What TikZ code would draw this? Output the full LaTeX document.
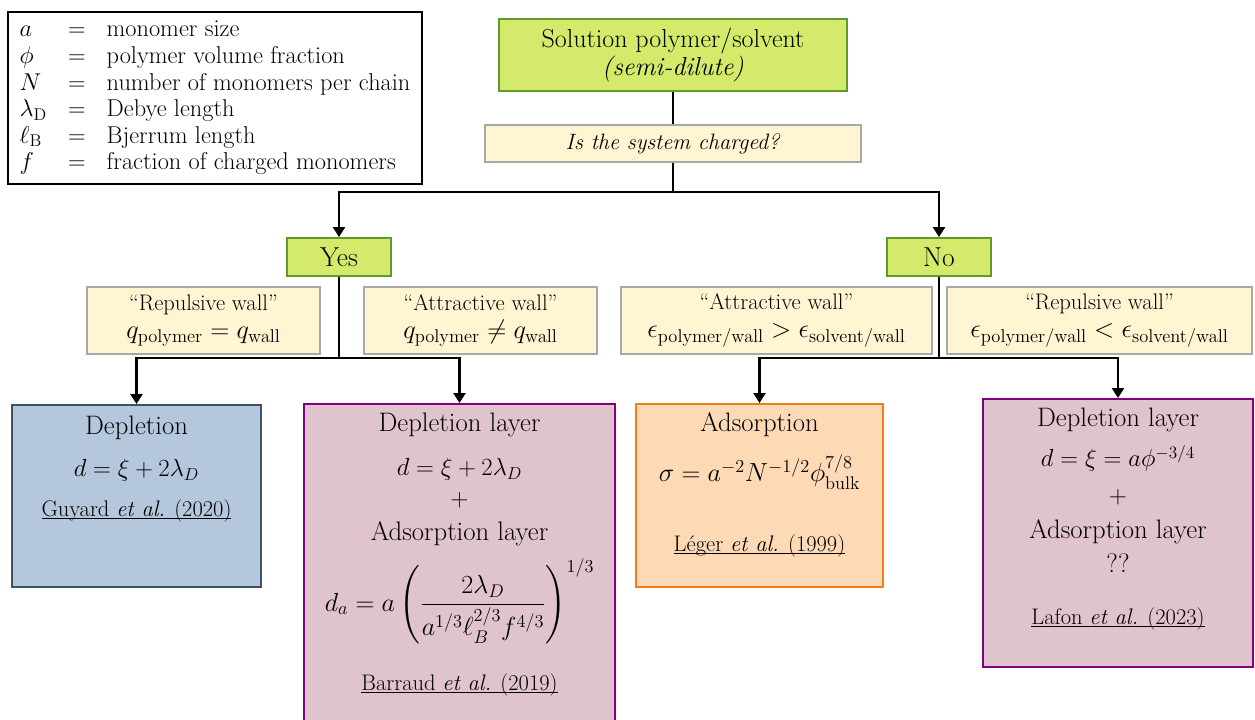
\RequirePackage{fix-cm}
\documentclass[tikz,border=0pt]{standalone}
\usepackage{amsmath,amssymb}
\usepackage{tikz}
\usetikzlibrary{arrows.meta}
\definecolor{leafgreen}{HTML}{D4EA6B}
\definecolor{greenline}{HTML}{5E9B2C}
\definecolor{cream}{HTML}{FFF5D2}
\definecolor{grayline}{HTML}{A8A8A8}
\definecolor{steelfill}{HTML}{B4C7DC}
\definecolor{steelline}{HTML}{3D5468}
\definecolor{mauvefill}{HTML}{DFC3CD}
\definecolor{mauveline}{HTML}{800080}
\definecolor{peachfill}{HTML}{FDDAB5}
\definecolor{peachline}{HTML}{F07F19}
% underline close to the baseline
\newcommand{\refuline}[1]{\setbox0\hbox{#1}\rlap{\rule[-2.2pt]{\wd0}{0.7pt}}\box0}
% larger math in the wall boxes
\newcommand{\walleq}[1]{{\fontsize{18.8}{20}\selectfont$#1$}}

\begin{document}
\begin{tikzpicture}[
  x=0.025cm, y=-0.025cm,
  legendbox/.style={draw, line width=1pt, inner sep=0pt, minimum width=10.35cm, minimum height=4.3cm,
                    font=\fontsize{17.3}{18.9}\selectfont},
  decision/.style={draw=greenline, fill=leafgreen, line width=1.4pt, inner sep=0pt, align=center},
  question/.style={draw=grayline, fill=cream, line width=1pt, inner sep=0pt, align=center,
                   minimum height=0.925cm, font=\fontsize{15.8}{18}\selectfont},
  cond/.style={draw=grayline, fill=cream, line width=1pt, inner sep=0pt, align=center,
               minimum height=1.675cm, font=\fontsize{16}{20}\selectfont},
  result/.style={line width=1.4pt, inner sep=0pt},
  txt/.style={anchor=base, inner sep=0pt, font=\fontsize{19}{23}\selectfont},
  eqn/.style={anchor=base, inner sep=0pt, font=\fontsize{17.6}{22}\selectfont},
  cite/.style={anchor=base, inner sep=0pt, font=\fontsize{16}{20}\selectfont},
  line/.style={line width=1.5pt},
  arr/.style={line width=1.5pt, -{Triangle[length=7pt, width=8.5pt]}}
]
\useasboundingbox (0,0) rectangle (1255,720);

% legend
\node[legendbox] (legend) at (215,98) {%
  \begin{tabular}{@{}l@{\hspace{15pt}}c@{\hspace{15pt}}l@{}}
  $a$ & $=$ & monomer size\\
  $\phi$ & $=$ & polymer volume fraction\\
  $N$ & $=$ & number of monomers per chain\\
  $\lambda_{\mathrm{D}}$ & $=$ & Debye length\\
  $\ell_{\mathrm{B}}$ & $=$ & Bjerrum length\\
  $f$ & $=$ & fraction of charged monomers
  \end{tabular}};

% tree
\node[decision, minimum width=8.675cm, minimum height=1.8cm, font=\fontsize{18.5}{20}\selectfont]
  (system) at (673,55) {Solution polymer/solvent\\\textit{(semi-dilute)}};
\node[question, minimum width=9.4cm] (charged) at (673,143.5) {\textit{Is the system charged?}};
\node[decision, minimum width=2.6cm, minimum height=0.95cm, font=\fontsize{19.5}{20}\selectfont] (yes) at (339,257) {Yes};
\node[decision, minimum width=2.6cm, minimum height=0.95cm, font=\fontsize{19.5}{20}\selectfont] (no) at (939,257) {No};

\node[cond, minimum width=5.825cm] (yesrep) at (203.5,320.5) {“Repulsive wall”\\\walleq{q_{\mathrm{polymer}}=q_{\mathrm{wall}}}};
\node[cond, minimum width=5.825cm] (yesatt) at (480.5,320.5) {“Attractive wall”\\\walleq{q_{\mathrm{polymer}}\neq q_{\mathrm{wall}}}};
\node[cond, minimum width=7.775cm] (noatt) at (776.5,320.5) {“Attractive wall”\\\walleq{\epsilon_{\mathrm{polymer/wall}}>\epsilon_{\mathrm{solvent/wall}}}};
\node[cond, minimum width=7.625cm] (norep) at (1099.5,320.5) {“Repulsive wall”\\\walleq{\epsilon_{\mathrm{polymer/wall}}<\epsilon_{\mathrm{solvent/wall}}}};

% result boxes
\node[result, draw=steelline, fill=steelfill, minimum width=6.225cm, minimum height=4.55cm] (deplA) at (136.5,496) {};
\node[result, draw=mauveline, fill=mauvefill, minimum width=7.775cm, minimum height=7.95cm] (deplB) at (459.5,563) {};
\node[result, draw=peachline, fill=peachfill, minimum width=6.175cm, minimum height=4.575cm] (adsC) at (759.5,495.5) {};
\node[result, draw=mauveline, fill=mauvefill, minimum width=6.75cm, minimum height=6.7cm] (deplD) at (1118,533) {};

\node[txt] (deplA-title) at (136.5,435) {Depletion};
\node[eqn] (deplA-eq) at (136.5,477) {$d=\xi+2\lambda_D$};
\node[cite] (deplA-ref) at (136.5,516) {\refuline{Guyard \textit{et al.} (2020)}};

\node[txt] (deplB-title) at (459.5,432) {Depletion layer};
\node[eqn] (deplB-eq) at (459.5,476) {$d=\xi+2\lambda_D$};
\node[eqn, anchor=center] (deplB-plus) at (459.5,500) {$+$};
\node[txt] (deplB-ads) at (459.5,540) {Adsorption layer};
\node[eqn, font=\fontsize{18.6}{22}\selectfont] (deplB-da) at (459.5,611)
  {$\displaystyle d_a=a\left(\frac{2\lambda_D}{a^{1/3}\ell_B^{2/3}f^{4/3}}\right)^{1/3}$};
\node[cite] (deplB-ref) at (459.5,690) {\refuline{Barraud \textit{et al.} (2019)}};

\node[txt] (adsC-title) at (759.5,432) {Adsorption};
\node[eqn, font=\fontsize{18.6}{22}\selectfont] (adsC-eq) at (759.5,482) {$\sigma=a^{-2}N^{-1/2}\phi_{\mathrm{bulk}}^{7/8}$};
\node[cite] (adsC-ref) at (759.5,551) {\refuline{Léger \textit{et al.} (1999)}};

\node[txt] (deplD-title) at (1118,427) {Depletion layer};
\node[eqn] (deplD-eq) at (1118,467) {$d=\xi=a\phi^{-3/4}$};
\node[eqn, anchor=center] (deplD-plus) at (1118,497) {$+$};
\node[txt] (deplD-ads) at (1118,538) {Adsorption layer};
\node[txt] (deplD-unk) at (1118,572) {??};
\node[cite] (deplD-ref) at (1118,624) {\refuline{Lafon \textit{et al.} (2023)}};

% connectors
\coordinate (qsplit) at (673,192);
\coordinate (yessplit) at (339,358);
\coordinate (nosplit) at (939,358);
\draw[line] (system) -- (charged);
\draw[line] (charged) -- (qsplit);
\draw[arr] (qsplit) -| (yes);
\draw[arr] (qsplit) -| (no);
\draw[line] (yes) -- (yessplit);
\draw[arr] (yessplit) -| (deplA);
\draw[arr] (yessplit) -| (deplB);
\draw[line] (no) -- (nosplit);
\draw[arr] (nosplit) -| (adsC);
\draw[arr] (nosplit) -| (deplD);
\end{tikzpicture}
\end{document}
